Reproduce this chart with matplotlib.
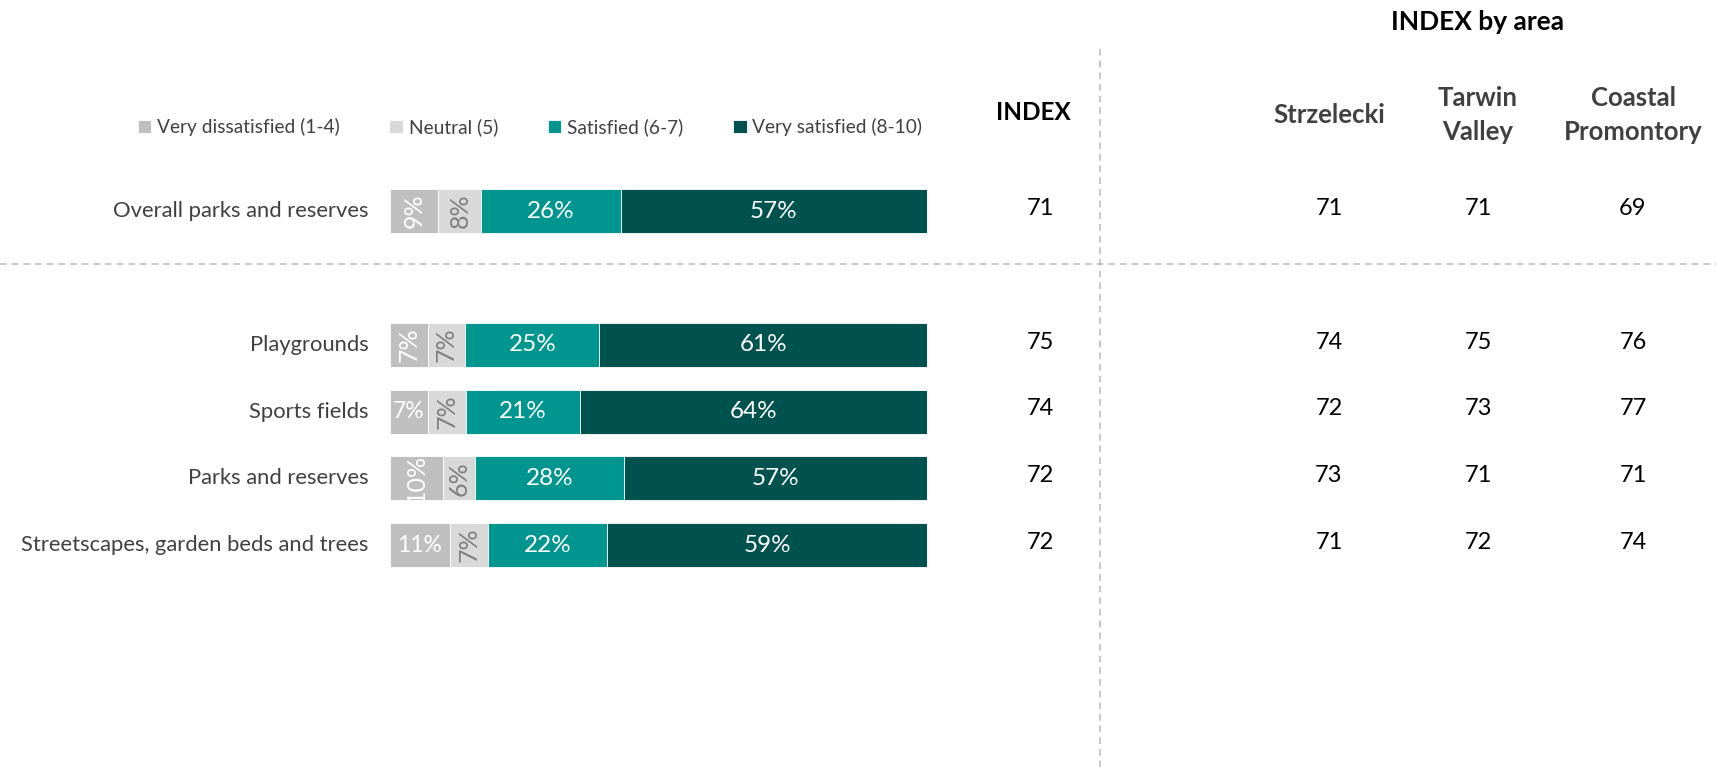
import numpy as np
import matplotlib.pyplot as plt
from matplotlib.transforms import blended_transform_factory

plt.rcParams['font.family'] = ['Lato', 'DejaVu Sans']

# ── data ──────────────────────────────────────────────────────────────
categories = ["Overall parks and reserves", "Playgrounds", "Sports fields",
              "Parks and reserves", "Streetscapes, garden beds and trees"]
very_dissatisfied = [9, 7, 7, 10, 11]
neutral           = [8, 7, 7, 6, 7]
satisfied         = [26, 25, 21, 28, 22]
very_satisfied    = [57, 61, 64, 57, 59]
index_total       = [71, 75, 74, 72, 72]
areas = ["Strzelecki", "Tarwin\nValley", "Coastal\nPromontory"]
index_by_area = [
    [71, 74, 72, 73, 71],   # Strzelecki
    [71, 75, 73, 71, 72],   # Tarwin Valley
    [69, 76, 77, 71, 74],   # Coastal Promontory
]
series_names = ["Very dissatisfied (1-4)", "Neutral (5)",
                "Satisfied (6-7)", "Very satisfied (8-10)"]

# ── styling ───────────────────────────────────────────────────────────
COLORS = ["#BFBFBF", "#D9D9D9", "#00968F", "#00524F"]
LABEL_COLORS = ["white", "#7F7F7F", "white", "white"]
TEXT = "#404040"
W, H = 1716, 767
ypos = [0, 2, 3, 4, 5]

fig = plt.figure(figsize=(W / 100, H / 100), dpi=100)
ax = fig.add_axes([390 / W, 0, (927 - 390) / W, 1])
ax.set_xlim(0, 100)
ax.set_ylim(8.32, -3.16)
ax.axis("off")

data = np.array([very_dissatisfied, neutral, satisfied, very_satisfied], dtype=float)
totals = data.sum(axis=0)
left = np.zeros(len(categories))
for k in range(4):
    widths = data[k] / totals * 100
    bars = ax.barh(ypos, widths, left=left, height=0.66, color=COLORS[k],
                   edgecolor="white", linewidth=0.6, label=series_names[k])
    for i, (w, v) in enumerate(zip(widths, data[k])):
        cx = left[i] + w / 2
        rot, fs = 0, 17.5
        if k < 2:
            # narrow grey segments get rotated labels unless they fit
            if k == 0 and i in (2, 4):
                fs = 16.5
            else:
                rot, fs = 90, 18
        t = ax.text(cx, ypos[i], f"{int(v)}%", ha="center", va="center",
                    rotation=rot, color=LABEL_COLORS[k], fontsize=fs)
        t.set_clip_path(bars[i])
    left += widths

# category labels
for y, c in zip(ypos, categories):
    ax.text(-4.0, y, c, ha="right", va="center", fontsize=15.8, color=TEXT)

# legend
leg = fig.legend(loc="center", bbox_to_anchor=(530 / W, 1 - 127 / H), ncol=4,
                 frameon=False, fontsize=13.8, handlelength=0.7, handleheight=0.7,
                 handletextpad=0.3, columnspacing=2.6, labelcolor=TEXT)

# index columns
tr = blended_transform_factory(fig.transFigure, ax.transData)
fig.text(1033 / W, 1 - 112 / H, "INDEX", ha="center", va="center",
         fontsize=17.5, fontweight="bold", color="black")
for y, v in zip(ypos, index_total):
    ax.text(1040 / W, y - 0.04, str(v), transform=tr, ha="center", va="center",
            fontsize=17, color="black")

area_x = [1329, 1478, 1633]
fig.text(1478 / W, 1 - 22 / H, "INDEX by area", ha="center", va="center",
         fontsize=19, fontweight="bold", color="black")
for xpx, name, vals in zip(area_x, areas, index_by_area):
    fig.text(xpx / W, 1 - 115 / H, name, ha="center", va="center",
             fontsize=18.5, fontweight="bold", color=TEXT, linespacing=1.45)
    for y, v in zip(ypos, vals):
        ax.text(xpx / W, y - 0.04, str(v), transform=tr, ha="center", va="center",
                fontsize=17, color="black")

# dashed separators
fig.add_artist(plt.Line2D([0, 1], [1 - 264 / H] * 2, transform=fig.transFigure,
                          color="#BFBFBF", linestyle=(0, (4, 3)), linewidth=1.2))
fig.add_artist(plt.Line2D([1100 / W] * 2, [1 - 49 / H, 0], transform=fig.transFigure,
                          color="#BFBFBF", linestyle=(0, (4, 3)), linewidth=1.2))

fig.savefig("out.png", dpi=100, facecolor="white")
